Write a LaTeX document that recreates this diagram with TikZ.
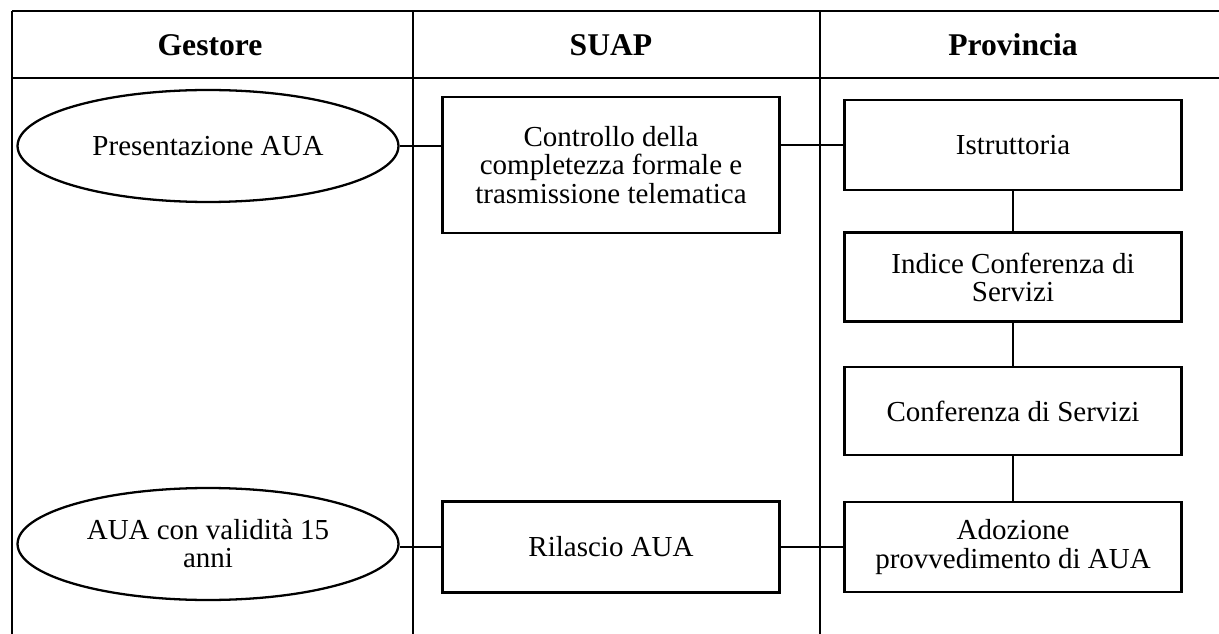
\documentclass[tikz,border=0pt]{standalone}
\usepackage{fontspec}
\setmainfont{Liberation Serif}
\usetikzlibrary{arrows,positioning,calc,shapes.geometric}

\begin{document}
\begin{tikzpicture}[
        x=0.02cm, y=-0.02cm,
        lane/.style={black, line width=0.6pt},
        link/.style={black, line width=0.9pt},
        box/.style={draw, line width=1.3pt, minimum width=6.74cm,
            align=center, inner sep=2pt},
        oval/.style={draw, ellipse, line width=1.3pt, minimum width=7.62cm,
            minimum height=2.24cm, align=center, inner sep=0pt},
        head/.style={font=\fontsize{18}{20}\selectfont\bfseries},
        every node/.style={color=black, font=\fontsize{16.5}{16}\selectfont},
    ]
    \useasboundingbox (0,0) rectangle (1219,634);
    % lanes
    \draw[lane] (12,11) -- (1219,11);
    \draw[lane] (12,78) -- (1219,78);
    \foreach \x in {12,413,820}
        \draw[lane] (\x,11) -- (\x,634);
    \node[head] (gestore) at (210,45) {Gestore};
    \node[head] (suap) at (611,45) {SUAP};
    \node[head] (provincia) at (1013,45) {Provincia};
    % steps
    \node[oval] (pres) at (208,146) {Presentazione AUA};
    \node[box, minimum height=2.72cm] (ctrl) at (611,165)
        {Controllo della\\completezza formale e\\trasmissione telematica};
    \node[box, minimum height=1.8cm] (istr) at (1013,145) {Istruttoria};
    \node[box, minimum height=1.78cm] (indice) at (1013,277)
        {Indice Conferenza di\\Servizi};
    \node[box, minimum height=1.76cm] (conf) at (1013,411) {Conferenza di Servizi};
    \node[box, minimum height=1.8cm] (adoz) at (1013,547)
        {Adozione\\provvedimento di AUA};
    \node[box, minimum height=1.82cm] (ril) at (611,547) {Rilascio AUA};
    \node[oval] (aua) at (208,544) {AUA con validità 15\\anni};
    % links
    \draw[link] (pres.east) -- (pres.east -| ctrl.west);
    \draw[link] (ctrl.east |- istr.west) -- (istr.west);
    \draw[link] (istr.south) -- (indice.north);
    \draw[link] (indice.south) -- (conf.north);
    \draw[link] (conf.south) -- (adoz.north);
    \draw[link] (adoz.west) -- (ril.east);
    \draw[link] (ril.west) -- (ril.west -| aua.east);
\end{tikzpicture}
\end{document}
